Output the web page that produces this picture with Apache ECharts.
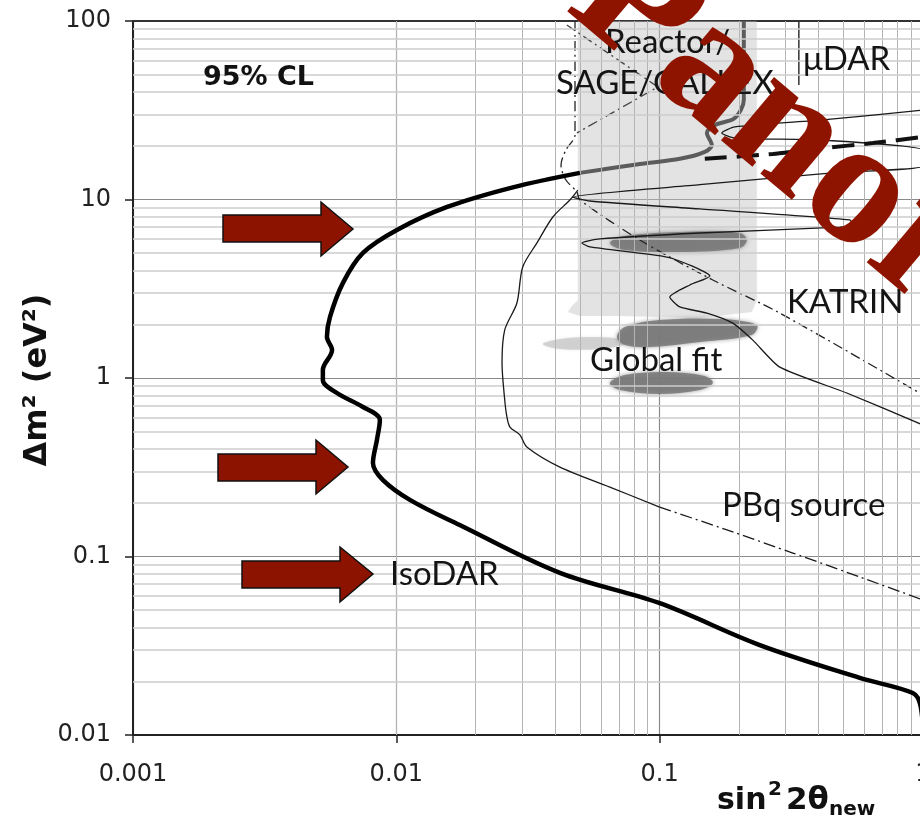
<!DOCTYPE html>
<html>
<head>
<meta charset="utf-8">
<script src="https://cdn.jsdelivr.net/npm/echarts@6/dist/echarts.min.js"></script>
<style>
  html, body { margin: 0; padding: 0; background: #ffffff; }
  #chart { width: 920px; height: 819px; }
</style>
</head>
<body>
<div id="chart"></div>
<script>
// Axis tick labels (decades)
const xTickLabels = ['0.001', '0.01', '0.1', '1'];
const yTickLabels = ['0.01', '0.1', '1', '10', '100'];

// Minor grid positions inside each decade
const xMinorGrid = [0.002, 0.003, 0.004, 0.005, 0.006, 0.007, 0.008, 0.009,
                    0.02, 0.03, 0.04, 0.05, 0.06, 0.07, 0.08, 0.09,
                    0.2, 0.3, 0.4, 0.5, 0.6, 0.7, 0.8, 0.9];
const yMinorGrid = [0.02, 0.03, 0.04, 0.05, 0.06, 0.07, 0.08, 0.09,
                    0.2, 0.3, 0.4, 0.5, 0.6, 0.7, 0.8, 0.9,
                    2, 3, 4, 5, 6, 7, 8, 9,
                    20, 30, 40, 50, 60, 70, 80, 90];

// IsoDAR 95% CL sensitivity  [sin^2 2theta, dm^2]
const isodar = [
  [0.0498, 14.1], [0.0277, 11.7], [0.0156, 9.08], [0.01005, 6.75], [0.00747, 5.02],
  [0.00627, 3.41], [0.0056, 2.20], [0.00545, 1.70], [0.0057, 1.435], [0.00526, 1.11],
  [0.00526, 0.975], [0.00595, 0.824], [0.00747, 0.688], [0.00866, 0.582], [0.00844, 0.45],
  [0.00815, 0.334], [0.0089, 0.268], [0.0113, 0.207], [0.0174, 0.150], [0.0418, 0.0809],
  [0.0995, 0.0549], [0.240, 0.0319], [0.575, 0.0209], [0.915, 0.0172], [0.973, 0.0151],
  [1.0, 0.0107]
];
const isodarHighMass = [[0.1484, 16.9], [0.269, 18.0], [0.4165, 19.4], [0.6447, 20.7], [1.0, 22.4]];

// Reactor / SAGE / GALLEX boundary
const reactorLine = [
  [0.2087, 100], [0.2087, 36.1], [0.1930, 28.6], [0.1620, 26.1], [0.1511, 23.6],
  [0.1578, 20.2], [0.1484, 18.5], [0.1193, 16.9], [0.0841, 15.8], [0.0498, 14.1]
];

// muDAR limit
const muDar = [[0.3377, 100], [0.3377, 43.8]];

// KATRIN sensitivity
const katrin = [
  [1.0, 31.7], [0.4165, 27.9], [0.1930, 25.5], [0.1722, 23.6], [0.1930, 22.1],
  [0.4165, 21.5], [1.0, 18.9], [1.0, 15.4], [0.4547, 14.1], [0.1421, 12.1],
  [0.0468, 10.3], [0.0543, 9.81], [0.1421, 8.85], [0.5273, 7.68], [0.5414, 7.20],
  [0.4832, 7.01], [0.1421, 6.49], [0.0593, 6.01], [0.0507, 5.71], [0.0543, 5.42],
  [0.1065, 4.76], [0.1384, 4.13], [0.1551, 3.73], [0.1302, 3.32], [0.1093, 2.84],
  [0.1193, 2.50], [0.1511, 2.31], [0.1896, 2.03], [0.2258, 1.63], [0.2860, 1.15],
  [0.5136, 0.824], [1.0, 0.545]
];

// PBq source sensitivity
const pbqSolid = [
  [0.0489, 11.3], [0.0456, 9.94], [0.0393, 7.98], [0.0342, 5.71], [0.0302, 4.19],
  [0.0287, 2.63], [0.0258, 1.86], [0.0252, 1.21], [0.0258, 0.753], [0.0263, 0.605],
  [0.0270, 0.531], [0.0295, 0.479], [0.0313, 0.411], [0.0418, 0.317], [0.0647, 0.245],
  [0.100, 0.189]
];
const pbqDashed = [[0.100, 0.189], [0.180, 0.141], [0.3204, 0.1046], [0.5755, 0.0768], [1.0, 0.0571]];

// Dash-dot contours
const dashDotA = [
  [0.0477, 100], [0.0477, 23.0], [0.0440, 18.9], [0.0422, 15.6], [0.0440, 12.9],
  [0.0485, 11.0], [0.0498, 9.94], [0.0841, 5.93], [0.1592, 3.54], [0.2860, 2.31], [1.0, 0.803]
];
const dashDotB = [[0.0444, 95.0], [0.0984, 42.7], [0.0485, 23.6]];

// Allowed regions
const reactorRegion = [
  [0.0489, 100], [0.2339, 100], [0.2339, 2.735], [0.2239, 2.343], [0.1421, 2.168],
  [0.0706, 2.225], [0.0498, 2.225], [0.0448, 2.343], [0.0464, 2.53], [0.0489, 2.735]
];
const fitLightLobe = [
  [0.0360, 1.551], [0.0418, 1.654], [0.0543, 1.697], [0.0706, 1.654], [0.0738, 1.551],
  [0.0593, 1.454], [0.0418, 1.454]
];
const fitIsland1 = [
  [0.0647, 5.71], [0.0738, 6.24], [0.1193, 6.58], [0.2016, 6.49], [0.2143, 5.93],
  [0.2016, 5.35], [0.1193, 5.08], [0.0738, 5.21]
];
const fitIsland2 = [
  [0.0688, 1.697], [0.0738, 1.93], [0.1000, 2.113], [0.1693, 2.14], [0.2339, 1.98],
  [0.2239, 1.741], [0.1421, 1.591], [0.0918, 1.492], [0.0738, 1.531]
];
const fitIsland3 = [
  [0.0647, 0.938], [0.0738, 1.039], [0.1045, 1.08], [0.1484, 1.026], [0.1592, 0.938],
  [0.1421, 0.857], [0.1000, 0.814], [0.0706, 0.857]
];

function regionSeries(name, pts, fill, z, blur, smooth) {
  return {
    type: 'custom', name: name, data: pts, z: z, silent: true, animation: false,
    encode: { x: 0, y: 1 },
    renderItem: function (params, api) {
      if (params.dataIndex !== 0) return null;
      return {
        type: 'polygon',
        shape: { points: pts.map(function (p) { return api.coord(p); }), smooth: smooth },
        style: { fill: fill, shadowBlur: blur || 0, shadowColor: fill }
      };
    }
  };
}

function curve(name, data, color, width, type, z, smooth) {
  return {
    type: 'line', name: name, data: data, showSymbol: false, symbol: 'none',
    lineStyle: { color: color, width: width, type: type, cap: 'butt' },
    smooth: smooth, z: z, silent: true, animation: false
  };
}

function label(text, x, y) {
  return {
    type: 'text', x: x, y: y, z: 50,
    style: { text: text, font: '33px Lato', fill: '#141414',
             textAlign: 'left', textVerticalAlign: 'middle', verticalAlign: 'middle' }
  };
}
function arrow(x0, y0, x1, yb, yh, tipX, tipY) {
  return {
    type: 'polygon', z: 60,
    shape: { points: [[x0, y0], [x1, y0], [x1, yh[0]], [tipX, tipY], [x1, yh[1]], [x1, yb], [x0, yb]] },
    style: { fill: '#8c1300', stroke: '#111', lineWidth: 1.5 }
  };
}
function boldText(text, x, y, size) {
  return {
    type: 'text', x: x, y: y, z: 50,
    style: { text: text, font: 'bold ' + size + 'px "DejaVu Sans"', fill: '#111',
             textAlign: 'left', textVerticalAlign: 'middle', verticalAlign: 'middle' }
  };
}

const chart = echarts.init(document.getElementById('chart'), null, { renderer: 'canvas' });

const minorV = xMinorGrid.map(function (v) { return { xAxis: v, lineStyle: { color: '#b4b4b4', width: 1, type: 'solid' } }; });
const minorH = yMinorGrid.map(function (v) { return { yAxis: v, lineStyle: { color: '#cdcdcd', width: 1.6, type: 'solid' } }; });

chart.setOption({
  animation: false,
  backgroundColor: '#ffffff',
  grid: { left: 133, top: 21, width: 790, height: 714, containLabel: false, outerBoundsMode: 'none' },
  xAxis: [{
    type: 'log', logBase: 10, min: 0.001, max: 1,
    axisLine: { show: true, lineStyle: { color: '#222', width: 2 } },
    axisTick: { show: true, inside: false, length: 8, lineStyle: { color: '#222', width: 1.5 } },
    axisLabel: {
      show: true, margin: 28, fontFamily: 'DejaVu Sans', fontSize: 24, color: '#222',
      showMinLabel: true, showMaxLabel: true,
      formatter: function (v) { return xTickLabels[Math.round(Math.log10(v)) + 3]; }
    },
    splitLine: { show: true, lineStyle: { color: '#8a8a8a', width: 1.2 } },
    minorTick: { show: false }, minorSplitLine: { show: false }
  }, {
    type: 'log', logBase: 10, min: 0.001, max: 1, position: 'top',
    axisLine: { show: true, lineStyle: { color: '#333', width: 2 } },
    axisTick: { show: false }, axisLabel: { show: false }, splitLine: { show: false }
  }],
  yAxis: {
    type: 'log', logBase: 10, min: 0.01, max: 100,
    axisLine: { show: true, lineStyle: { color: '#222', width: 2 } },
    axisTick: { show: true, inside: false, length: 8, lineStyle: { color: '#222', width: 1.5 } },
    axisLabel: {
      show: true, margin: 22, fontFamily: 'DejaVu Sans', fontSize: 24, color: '#222',
      showMinLabel: true, showMaxLabel: true,
      formatter: function (v) { return yTickLabels[Math.round(Math.log10(v)) + 2]; }
    },
    splitLine: { show: true, lineStyle: { color: '#8a8a8a', width: 1.2 } }
  },
  series: [
    regionSeries('Reactor/SAGE/GALLEX', reactorRegion, 'rgba(190,190,190,0.36)', 1, 2, 0),
    regionSeries('Global fit lobe', fitLightLobe, 'rgba(185,185,185,0.55)', 1, 3, 0.35),
    {
      type: 'line', name: 'grid', data: [[0.001, 0.01]], showSymbol: false, symbol: 'none',
      lineStyle: { width: 0 }, z: 2, silent: true, animation: false,
      markLine: {
        silent: true, symbol: ['none', 'none'], label: { show: false }, animation: false,
        lineStyle: { type: 'solid' },
        data: minorV.concat(minorH)
      }
    },
    regionSeries('Global fit 1', fitIsland1, 'rgba(120,120,120,0.85)', 3, 4, 0.35),
    regionSeries('Global fit 2', fitIsland2, 'rgba(120,120,120,0.85)', 3, 4, 0.35),
    regionSeries('Global fit 3', fitIsland3, 'rgba(120,120,120,0.85)', 3, 4, 0.35),
    curve('Reactor boundary', reactorLine, '#5c5c5c', 4, 'solid', 4, 0.3),
    curve('muDAR', muDar, '#333', 1.5, 'solid', 4, false),
    curve('dash-dot A', dashDotA, '#222', 1.3, [10, 4, 2, 4], 4, 0.3),
    curve('dash-dot B', dashDotB, '#444', 1.3, [10, 4, 2, 4], 4, false),
    curve('KATRIN', katrin, '#1a1a1a', 1.3, 'solid', 5, 0.2),
    curve('PBq source', pbqSolid, '#1a1a1a', 1.3, 'solid', 5, 0.3),
    curve('PBq source (ext)', pbqDashed, '#1a1a1a', 1.3, [12, 4, 2, 4], 5, 0.2),
    curve('IsoDAR high mass', isodarHighMass, '#111', 4, [22, 10], 6, 0.2),
    curve('IsoDAR', isodar, '#000', 4.5, 'solid', 7, 0.35)
  ],
  graphic: [
    boldText('95% CL', 203, 77.5, 27),
    label('Reactor/', 605, 42),
    label('SAGE/GALLEX', 556, 83),
    label('\u03bcDAR', 803, 59),
    label('KATRIN', 787, 302),
    label('Global fit', 590, 360),
    label('PBq source', 722, 505),
    label('IsoDAR', 390, 574),
    arrow(223, 215, 321, 242, [202, 256], 353, 229),
    arrow(218, 454, 316, 481, [440, 494], 348, 467),
    arrow(242, 561, 340, 588, [547, 602], 373, 574),
    // axis titles
    { type: 'text', x: 38, y: 380, rotation: Math.PI / 2, z: 50,
      style: { text: '\u0394m\u00b2 (eV\u00b2)', font: 'bold 32px "DejaVu Sans"',
               fill: '#111', textAlign: 'center', textVerticalAlign: 'middle', verticalAlign: 'middle' } },
    boldText('sin', 717, 801, 30),
    boldText('2', 768, 790, 20),
    boldText('2\u03b8', 786, 801, 31),
    boldText('new', 829, 810, 20),
    // overlay stamp
    { type: 'text', x: 594, y: -27, rotation: -40 * Math.PI / 180, z: 200,
      style: { text: 'Panorama', font: 'bold 180px "Liberation Serif"',
               fill: '#8f1400', textAlign: 'left', textVerticalAlign: 'middle', verticalAlign: 'middle' } }
  ]
});
</script>
</body>
</html>
